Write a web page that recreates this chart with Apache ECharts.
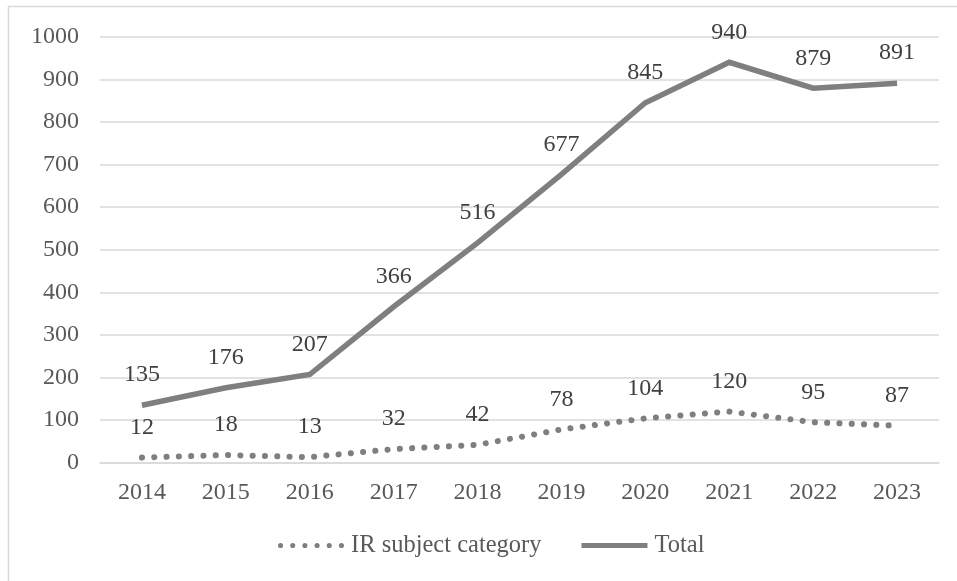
<!DOCTYPE html>
<html>
<head>
<meta charset="utf-8">
<script src="https://cdn.jsdelivr.net/npm/echarts@6/dist/echarts.min.js"></script>
<style>
  html, body { margin: 0; padding: 0; background: #fff; }
  #chart { width: 957px; height: 581px; }
</style>
</head>
<body>
<div id="chart"></div>
<script>
// Publication counts per year
const years = ['2014', '2015', '2016', '2017', '2018', '2019', '2020', '2021', '2022', '2023'];
const irSubject = [12, 18, 13, 32, 42, 78, 104, 120, 95, 87];
const total = [135, 176, 207, 366, 516, 677, 845, 940, 879, 891];
const yMin = 0, yMax = 1000, yStep = 100;

const FONT = '"Liberation Serif", "DejaVu Serif", serif';
const LINE_COLOR = '#7f7f7f';
const LABEL_COLOR = '#404040';
const AXIS_TEXT = '#595959';
const GRID_COLOR = '#d9d9d9';

// Legend keys: a row of six round dots, and a solid bar
function dotRow(n, r, step) {
  let p = '';
  for (let i = 0; i < n; i++) {
    const x = i * step;
    p += 'M' + x + ',' + r + ' a' + r + ',' + r + ' 0 1,0 ' + (2 * r) + ',0 a' + r + ',' + r + ' 0 1,0 ' + (-2 * r) + ',0 ';
  }
  return 'path://' + p;
}
const dottedIcon = dotRow(6, 2.6, 12.4);
const solidIcon = 'path://M0,0 H67.2 V5.2 H0 Z';

const chart = echarts.init(document.getElementById('chart'), null, { renderer: 'canvas' });

const dataLabel = {
  show: true,
  position: 'top',
  distance: 18,
  color: LABEL_COLOR,
  fontFamily: FONT,
  fontSize: 24
};

chart.setOption({
  animation: false,
  backgroundColor: '#ffffff',
  textStyle: { fontFamily: FONT },
  graphic: [{
    type: 'rect',
    shape: { x: 8.5, y: 6.5, width: 970, height: 600 },
    style: { fill: 'none', stroke: GRID_COLOR, lineWidth: 1.5 },
    silent: true,
    z: -10
  }],
  grid: { left: 100, right: 18, top: 36.7, bottom: 118.3, containLabel: false },
  legend: {
    left: 273,
    top: 528,
    itemWidth: 66,
    itemHeight: 5.2,
    itemGap: 40,
    textStyle: { color: AXIS_TEXT, fontFamily: FONT, fontSize: 24.5, padding: [0, 0, 0, 2] },
    itemStyle: { color: LINE_COLOR },
    data: [
      { name: 'IR subject category', icon: dottedIcon },
      { name: 'Total', icon: solidIcon }
    ]
  },
  xAxis: {
    type: 'category',
    data: years,
    boundaryGap: true,
    axisLine: { show: true, lineStyle: { color: GRID_COLOR, width: 1.5 } },
    axisTick: { show: false },
    axisLabel: { color: AXIS_TEXT, fontFamily: FONT, fontSize: 24, margin: 18 }
  },
  yAxis: {
    type: 'value',
    min: yMin,
    max: yMax,
    interval: yStep,
    axisLine: { show: false },
    axisTick: { show: false },
    splitLine: { lineStyle: { color: GRID_COLOR, width: 1.5 } },
    axisLabel: {
      color: AXIS_TEXT, fontFamily: FONT, fontSize: 24, margin: 21,
      formatter: v => String(v)
    }
  },
  series: [
    {
      name: 'IR subject category',
      type: 'line',
      data: irSubject,
      symbol: 'circle',
      symbolSize: 0.01,
      showSymbol: true,
      lineStyle: { color: LINE_COLOR, width: 6, type: [0.1, 12.2], cap: 'round' },
      itemStyle: { color: LINE_COLOR },
      label: dataLabel,
      z: 2
    },
    {
      name: 'Total',
      type: 'line',
      data: total,
      symbol: 'circle',
      symbolSize: 0.01,
      showSymbol: true,
      lineStyle: { color: LINE_COLOR, width: 5.5, cap: 'butt', join: 'miter' },
      itemStyle: { color: LINE_COLOR },
      label: dataLabel,
      z: 3
    }
  ]
});
</script>
</body>
</html>
